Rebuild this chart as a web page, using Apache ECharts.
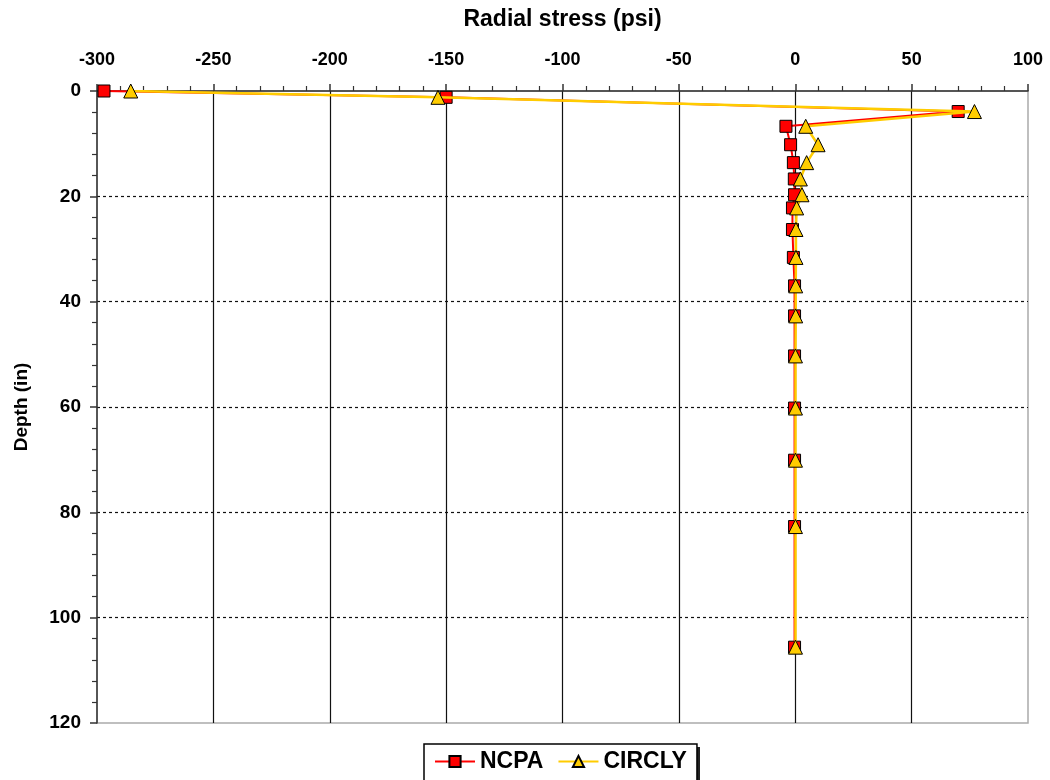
<!DOCTYPE html>
<html lang="en">
<head>
    <meta charset="UTF-8">
    <title>Radial stress vs depth</title>
    <script src="https://cdn.jsdelivr.net/npm/echarts@6/dist/echarts.min.js"></script>
    <style>
        html, body { margin: 0; padding: 0; background: #fff; }
        #chart { width: 1050px; height: 780px; }
    </style>
</head>
<body>
    <div id="chart"></div>
    <script>
        // Profundidad de cada punto (in), igual para las dos series
        const depth = [0, 1.2, 3.9, 6.7, 10.2, 13.6, 16.7, 19.7, 22.2, 26.3, 31.6, 37.0, 42.7, 50.3, 60.2, 70.1, 82.7, 105.6];
        // Esfuerzo radial (psi)
        const ncpa = [-297, -150, 70, -4, -2, -0.8, -0.4, -0.3, -1.2, -1.2, -0.8, -0.3, -0.3, -0.3, -0.3, -0.3, -0.3, -0.3];
        const circly = [-285.5, -153.5, 77, 4.5, 9.8, 4.9, 2.2, 2.9, 0.6, 0.3, 0.3, 0.2, 0.2, 0.1, 0.1, 0.1, 0.1, 0.1];
        const xTicks = { min: -300, max: 100, step: 50 };
        const yTicks = { min: 0, max: 120, step: 20 };

        const font = 'Liberation Sans, Arial, sans-serif';

        function pairs(xs) {
            return xs.map((v, i) => [v, depth[i]]);
        }

        const chart = echarts.init(document.getElementById('chart'));

        const option = {
            backgroundColor: '#fff',
            animation: false,
            grid: {
                left: 97, right: 22, top: 91, bottom: 57,
                show: true, borderColor: '#aaa', borderWidth: 1.5
            },
            graphic: [{
                // sombra del recuadro de la leyenda (solo borde derecho)
                type: 'rect',
                left: 697, top: 747,
                shape: { width: 3, height: 40 },
                style: { fill: '#222' },
                z: 0
            }],
            legend: {
                left: 424, top: 744,
                padding: [6, 10, 14, 10],
                itemGap: 14,
                itemWidth: 40, itemHeight: 14,
                borderColor: '#000', borderWidth: 1.5,
                backgroundColor: '#fff',
                textStyle: { fontFamily: font, fontWeight: 'bold', fontSize: 23, color: '#000' },
                data: ['NCPA', 'CIRCLY']
            },
            xAxis: {
                type: 'value',
                position: 'top',
                min: xTicks.min, max: xTicks.max, interval: xTicks.step,
                name: 'Radial stress (psi)',
                nameLocation: 'middle',
                nameGap: 60,
                nameTextStyle: { fontFamily: font, fontWeight: 'bold', fontSize: 23, color: '#000' },
                axisLine: { show: true, onZero: false, lineStyle: { color: '#333', width: 1.5 } },
                axisTick: { show: true, inside: false, length: 7, lineStyle: { color: '#333', width: 1.5 } },
                minorTick: { show: true, splitNumber: 5, length: 5, lineStyle: { color: '#333', width: 1.2 } },
                axisLabel: { fontFamily: font, fontWeight: 'bold', fontSize: 18, color: '#000', margin: 22 },
                splitLine: { show: true, showMinLine: false, showMaxLine: false, lineStyle: { color: '#111', width: 1.2 } }
            },
            yAxis: {
                type: 'value',
                inverse: true,
                min: yTicks.min, max: yTicks.max, interval: yTicks.step,
                name: 'Depth (in)',
                nameLocation: 'middle',
                nameGap: 66,
                nameTextStyle: { fontFamily: font, fontWeight: 'bold', fontSize: 19, color: '#000' },
                axisLine: { show: true, onZero: false, lineStyle: { color: '#333', width: 1.5 } },
                axisTick: { show: true, inside: false, length: 7, lineStyle: { color: '#333', width: 1.5 } },
                minorTick: { show: true, splitNumber: 5, length: 5, lineStyle: { color: '#333', width: 1.2 } },
                axisLabel: { fontFamily: font, fontWeight: 'bold', fontSize: 19, color: '#000', margin: 16 },
                splitLine: { show: true, showMinLine: false, showMaxLine: false, lineStyle: { color: '#111', width: 1.2, type: [3, 3] } }
            },
            series: [
                {
                    name: 'NCPA',
                    type: 'line',
                    data: pairs(ncpa),
                    symbol: 'rect',
                    symbolSize: 12,
                    lineStyle: { color: '#ff0000', width: 2 },
                    itemStyle: { color: '#ff0000', borderColor: '#000', borderWidth: 1 },
                    z: 2
                },
                {
                    name: 'CIRCLY',
                    type: 'line',
                    data: pairs(circly),
                    symbol: 'triangle',
                    symbolSize: 14,
                    lineStyle: { color: '#ffcc00', width: 2.5 },
                    itemStyle: { color: '#ffcc00', borderColor: '#000', borderWidth: 1 },
                    z: 3
                }
            ]
        };

        chart.setOption(option);
    </script>
</body>
</html>
